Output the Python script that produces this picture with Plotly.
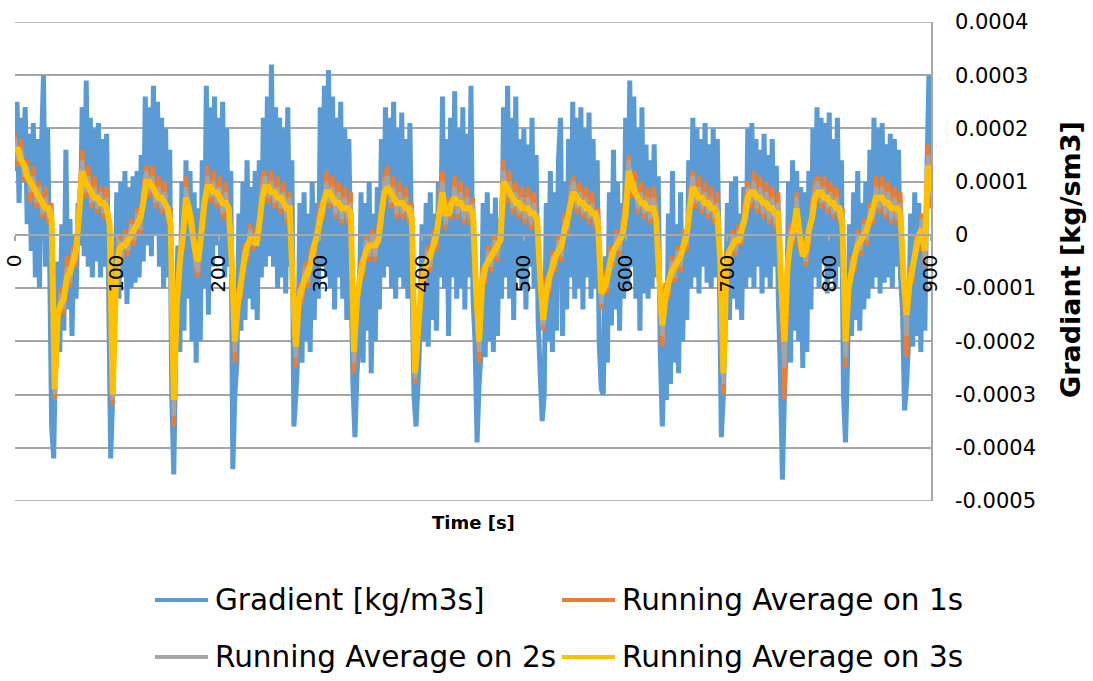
import numpy as np
import plotly.graph_objects as go

# ---- data (values in units of 1e-5) ----
# gradient sampled every 2 s, 0..900 s
GRADIENT_E5 = [
    12, 25, 6, 22, 10, 24, 2, 19, -3, 21,
    -8, 18, -10, 16, 30, -6, 20, -4, -36, -42,
    -20, -5, -22, 2, -18, 16, -14, 3, -19, 0,
    -12, 6, -2, 24, -4, 29, -6, 22, -8, 20,
    -5, 21, -8, 18, -6, 19, -10, -42, -30, -14,
    8, -12, 10, -8, 12, -13, 9, -10, 11, -9,
    12, -8, 15, -5, 26, -2, 24, -4, 28, 0,
    25, -6, 22, -10, 20, -8, 16, -30, -45, -20,
    -2, -22, 10, -18, 14, -12, 12, -20, 8, -24,
    5, -20, 14, -10, 28, -15, 24, -6, 26, -2,
    22, -4, 25, -8, 20, -6, 12, -44, -30, -24,
    4, -18, 10, -16, 14, -12, 9, -14, 12, -16,
    14, -8, 22, -6, 26, -4, 32, -6, 24, -10,
    22, -8, 20, -11, 24, -6, 14, -36, -30, -22,
    6, -24, 8, -20, 4, -22, 10, -16, 6, -12,
    24, -6, 28, -8, 31, -10, 26, -14, 22, -8,
    25, -12, 20, -16, 18, -6, -28, -38, -26, -20,
    8, -24, 6, -18, 10, -26, 4, -20, 9, -14,
    18, -8, 24, -6, 22, -10, 25, -12, 20, -8,
    23, -10, 18, -12, 21, -8, -30, -36, -28, -18,
    2, -20, 6, -21, 8, -16, 4, -18, 10, -8,
    26, -10, 18, -19, 22, -8, 27, -12, 20, -10,
    24, -14, 19, -8, 28, -12, -20, -39, -28, -22,
    6, -23, 8, -20, 4, -22, 7, -19, 3, -12,
    24, -8, 28, -12, 22, -16, 26, -8, 18, -10,
    20, -14, 17, -6, 22, -10, 15, -16, -26, -35,
    -30, 6, -20, 12, -22, 8, -18, 14, 22, -19,
    10, -14, 18, -8, 25, -12, 22, -10, 24, -14,
    20, -8, 23, -12, 18, -10, 14, -20, -29, -30,
    -4, -24, 8, -17, 16, -14, 10, -18, 6, -12,
    22, -10, 29, -6, 26, -12, 20, -18, 24, -11,
    17, -12, 14, -10, 17, -8, 11, -22, -36, -20,
    -31, 4, -28, 12, -24, 2, -26, 8, -20, 1,
    -16, 14, -10, 22, -8, 20, -11, 18, -6, 21,
    -9, 17, -10, 20, -8, 18, -6, -38, -30, -16,
    6, -16, 10, -12, 11, -14, 4, -16, 9, -10,
    20, -8, 21, -10, 18, -6, 16, -11, 19, -8,
    15, -10, 18, -6, 13, -12, -26, -46, -30, -20,
    10, -24, 14, -18, 12, -20, 9, -25, 8, -22,
    12, -14, 20, -8, 24, -10, 22, -5, 21, -11,
    23, -8, 18, -10, 22, -6, 14, -30, -39, -24,
    2, -19, 8, -16, 12, -18, 6, -14, 10, -12,
    16, -10, 22, -8, 20, -11, 21, -9, 17, -8,
    19, -10, 18, -6, 16, -8, -14, -33, -28, -20,
    4, -21, 8, -19, 6, -22, 3, -18, 12, 30,
    10,
]

# running averages sampled every 3 s, 0..900 s
AVG_1S_E5 = [
    19, 13, 18, 10, 14, 6, 13, 5, 10, 3,
    9, 2, 6, -31, -18, -10, -15, -4, -10, -2,
    -6, 7, 16, 7, 13, 5, 11, 4, 9, 3,
    9, -1, -32, -13, 0, -5, 1, -4, 3, -2,
    5, 0, 9, 13, 7, 13, 5, 11, 4, 10,
    2, 5, -36, -16, -2, -3, 11, 2, 4, -6,
    -8, 3, 3, 13, 6, 12, 5, 11, 3, 10,
    2, -7, -24, -10, -12, -2, -5, 2, -3, 1,
    -1, 11, 12, 6, 12, 5, 11, 4, 10, 2,
    8, -12, -25, -9, -13, -5, -10, -2, -5, 3,
    6, 3, 12, 5, 11, 3, 10, 2, 9, 2,
    8, -26, -15, -5, -8, 0, -5, 1, -5, 2,
    1, 11, 13, 5, 11, 3, 10, 3, 9, 2,
    6, -28, -21, -7, -10, -2, -7, 1, -3, 7,
    12, 1, 7, 3, 11, 3, 10, 2, 9, 2,
    7, -12, -24, -6, -9, -2, -7, 0, -5, 2,
    14, 6, 12, 4, 10, 3, 9, 2, 9, 1,
    8, 0, -9, -18, -8, -11, -3, -7, 0, -5,
    4, 0, 9, 11, 4, 10, 3, 9, 2, 8,
    1, 5, -14, -7, -11, -2, -6, 1, -4, 3,
    7, 15, 7, 12, 4, 10, 3, 9, 2, 9,
    6, -10, -21, -9, -12, -4, -9, -2, -7, 1,
    -3, 8, 12, 5, 11, 4, 10, 3, 9, 2,
    8, -7, -30, -3, -6, 1, -4, 2, -2, 6,
    10, 5, 12, 4, 11, 3, 10, 2, 9, 1,
    8, -14, -31, -9, 2, -2, 8, -3, -1, -6,
    -2, 6, 10, 11, 5, 11, 4, 10, 3, 9,
    2, 5, -25, -13, -4, -7, 1, -4, 3, -2,
    6, 2, 11, 4, 11, 3, 10, 2, 9, 2,
    8, -10, -23, -6, -9, 0, -3, 4, -6, 17,
    5,
]

AVG_2S_E5 = [
    18, 14, 16, 11, 13, 8, 11, 6, 9, 4,
    7, 3, 5, -30, -17, -11, -14, -6, -9, -3,
    -5, 6, 14, 8, 11, 6, 9, 5, 8, 4,
    7, 0, -31, -12, -1, -4, 0, -3, 2, -1,
    4, 1, 8, 12, 8, 11, 6, 9, 5, 8,
    3, 4, -34, -15, -3, -2, 9, 3, 3, -5,
    -7, 2, 4, 11, 7, 10, 6, 9, 4, 8,
    3, -6, -22, -11, -11, -3, -4, 1, -2, 0,
    0, 9, 11, 7, 10, 6, 9, 5, 8, 3,
    7, -11, -23, -10, -12, -6, -9, -3, -4, 2,
    5, 4, 10, 6, 9, 4, 8, 3, 7, 3,
    6, -24, -14, -6, -7, -1, -4, 0, -4, 1,
    2, 10, 11, 6, 9, 4, 8, 4, 7, 3,
    5, -27, -20, -8, -9, -3, -6, 0, -2, 6,
    10, 2, 6, 4, 9, 4, 8, 3, 7, 3,
    6, -11, -22, -7, -8, -3, -6, -1, -4, 1,
    12, 7, 10, 5, 8, 4, 7, 3, 7, 2,
    6, 1, -9, -17, -9, -10, -4, -6, -1, -4,
    3, 1, 8, 10, 5, 8, 4, 7, 3, 6,
    2, 4, -13, -8, -10, -3, -5, 0, -3, 2,
    6, 14, 8, 10, 5, 8, 4, 7, 3, 7,
    5, -9, -19, -10, -11, -5, -8, -3, -6, 0,
    -2, 7, 11, 6, 9, 5, 8, 4, 7, 3,
    6, -6, -28, -4, -5, 0, -3, 1, -1, 5,
    9, 6, 10, 5, 9, 4, 8, 3, 7, 2,
    6, -12, -25, -8, 1, -1, 7, -2, -2, -5,
    -1, 5, 9, 10, 6, 9, 5, 8, 4, 7,
    3, 4, -23, -12, -5, -6, 0, -3, 2, -1,
    5, 3, 9, 5, 9, 4, 8, 3, 7, 3,
    6, -9, -19, -7, -8, -1, -2, 3, -5, 15,
    7,
]

AVG_3S_E5 = [
    16, 16, 14, 13, 11, 10, 9, 8, 7, 6,
    5, 5, 3, -29, -15, -13, -12, -8, -7, -5,
    -3, 4, 12, 10, 9, 8, 7, 7, 6, 6,
    5, 2, -30, -10, -3, -2, -2, -1, 0, 1,
    2, 3, 6, 10, 10, 9, 8, 7, 7, 6,
    5, 2, -31, -13, -5, 0, 7, 5, 1, -3,
    -5, 0, 6, 9, 9, 8, 8, 7, 6, 6,
    5, -5, -20, -13, -9, -5, -2, -1, 0, -2,
    2, 7, 9, 9, 8, 8, 7, 7, 6, 5,
    5, -10, -21, -12, -10, -8, -7, -5, -2, 0,
    3, 6, 8, 8, 7, 6, 6, 5, 5, 5,
    4, -22, -12, -8, -5, -3, -2, -2, -2, -1,
    4, 8, 9, 8, 7, 6, 6, 6, 5, 5,
    3, -26, -18, -10, -7, -5, -4, -2, 0, 4,
    8, 4, 4, 6, 7, 6, 6, 5, 5, 5,
    4, -10, -20, -9, -6, -5, -4, -3, -2, -1,
    10, 9, 8, 7, 6, 6, 5, 5, 5, 4,
    4, 3, -8, -16, -11, -8, -6, -4, -3, -2,
    1, 3, 6, 8, 7, 6, 6, 5, 5, 4,
    4, 2, -11, -10, -8, -5, -3, -2, -1, 0,
    4, 12, 10, 8, 7, 6, 6, 5, 5, 5,
    3, -8, -17, -12, -9, -7, -6, -5, -4, -2,
    0, 5, 9, 8, 7, 7, 6, 6, 5, 5,
    4, -5, -26, -6, -3, -2, -1, -1, 1, 3,
    7, 8, 8, 7, 7, 6, 6, 5, 5, 4,
    4, -10, -20, -6, -1, 1, 5, 0, -4, -3,
    1, 3, 7, 8, 8, 7, 7, 6, 6, 5,
    5, 2, -20, -10, -7, -4, -2, -1, 0, 1,
    3, 5, 7, 7, 7, 6, 6, 5, 5, 5,
    4, -8, -15, -9, -6, -3, 0, 1, -3, 13,
    8,
]

X_TICKS = [0, 100, 200, 300, 400, 500, 600, 700, 800, 900]
Y_TICKS = [0.0004, 0.0003, 0.0002, 0.0001, 0, -0.0001, -0.0002, -0.0003, -0.0004, -0.0005]
Y_TICK_TEXT = ["0.0004", "0.0003", "0.0002", "0.0001", "0",
               "-0.0001", "-0.0002", "-0.0003", "-0.0004", "-0.0005"]

SERIES_NAMES = ["Gradient [kg/m3s]", "Running Average on 1s",
                "Running Average on 2s", "Running Average on 3s"]

SCALE = 1e-5
t_grad = np.arange(0, 901, 2)
t_avg = np.arange(0, 901, 3)

# ---- styling ----
W, H = 1093, 681
ML, MR, MT, MB = 15, 162, 22, 180
PW, PH = W - ML - MR, H - MT - MB
FONT = "DejaVu Sans"
GRID = "#a6a6a6"
COLORS = ["#5B9BD5", "#ED7D31", "#A5A5A5", "#FFC000"]
WIDTHS = [5, 4, 4, 6]


def px_x(px):
    return (px - ML) / PW


def px_y(py):
    return (H - MB - py) / PH


fig = go.Figure()
series = [
    (t_grad, GRADIENT_E5),
    (t_avg, AVG_1S_E5),
    (t_avg, AVG_2S_E5),
    (t_avg, AVG_3S_E5),
]
for (tt, vals), name, col, w in zip(series, SERIES_NAMES, COLORS, WIDTHS):
    fig.add_trace(go.Scatter(
        x=tt, y=np.array(vals) * SCALE, mode="lines", name=name,
        line=dict(color=col, width=w, simplify=False), showlegend=False,
    ))

shapes = []
annotations = []

# outer gridlines at the ends of the value range
for yv in (Y_TICKS[0], Y_TICKS[-1]):
    shapes.append(dict(
        type="line", xref="paper", yref="y", x0=0, x1=1, y0=yv, y1=yv,
        line=dict(color=GRID, width=1.5), layer="below",
    ))

# legend drawn as line samples plus text, two columns
legend_slots = [(155, 600), (562, 600), (155, 657), (562, 657)]
for (lx, ly), idx in zip(legend_slots, range(4)):
    shapes.append(dict(
        type="line", xref="paper", yref="paper",
        x0=px_x(lx), x1=px_x(lx + 53), y0=px_y(ly), y1=px_y(ly),
        line=dict(color=COLORS[idx], width=4),
    ))
    annotations.append(dict(
        xref="paper", yref="paper", x=px_x(lx + 58), y=px_y(ly),
        xanchor="left", yanchor="middle", showarrow=False,
        text=SERIES_NAMES[idx], font=dict(family=FONT, size=29.5, color="#000000"),
    ))

annotations.append(dict(
    xref="paper", yref="paper", x=px_x(473), y=px_y(522),
    xanchor="center", yanchor="middle", showarrow=False,
    text="<b>Time [s]</b>", font=dict(family=FONT, size=18, color="#000000"),
))
annotations.append(dict(
    xref="paper", yref="paper", x=px_x(1070), y=px_y(260),
    xanchor="center", yanchor="middle", showarrow=False, textangle=-90,
    text="<b>Gradiant [kg/sm3]</b>", font=dict(family=FONT, size=27, color="#000000"),
))

fig.update_layout(
    width=W, height=H,
    margin=dict(l=ML, r=MR, t=MT, b=MB, pad=0, autoexpand=False),
    paper_bgcolor="white", plot_bgcolor="white",
    showlegend=False,
    shapes=shapes, annotations=annotations,
    xaxis=dict(
        range=[0, 900], tickmode="array", tickvals=X_TICKS,
        ticktext=[str(v) for v in X_TICKS], tickangle=-90,
        anchor="free", position=5 / 9, automargin=False,
        showline=True, linecolor=GRID, linewidth=1.5,
        ticks="outside", ticklen=5, tickcolor=GRID, tickwidth=1.5,
        ticklabelstandoff=6,
        showgrid=False, zeroline=False,
        tickfont=dict(family=FONT, size=20, color="#000000"),
        layer="above traces",
    ),
    yaxis=dict(
        range=[-0.0005, 0.0004], side="right", automargin=False,
        tickmode="array", tickvals=Y_TICKS, ticktext=Y_TICK_TEXT,
        showgrid=True, gridcolor=GRID, gridwidth=1.5,
        showline=True, linecolor=GRID, linewidth=1.5,
        zeroline=False, ticks="", ticklabelstandoff=18,
        tickfont=dict(family=FONT, size=21, color="#000000"),
    ),
)

fig.write_html("out.html")
